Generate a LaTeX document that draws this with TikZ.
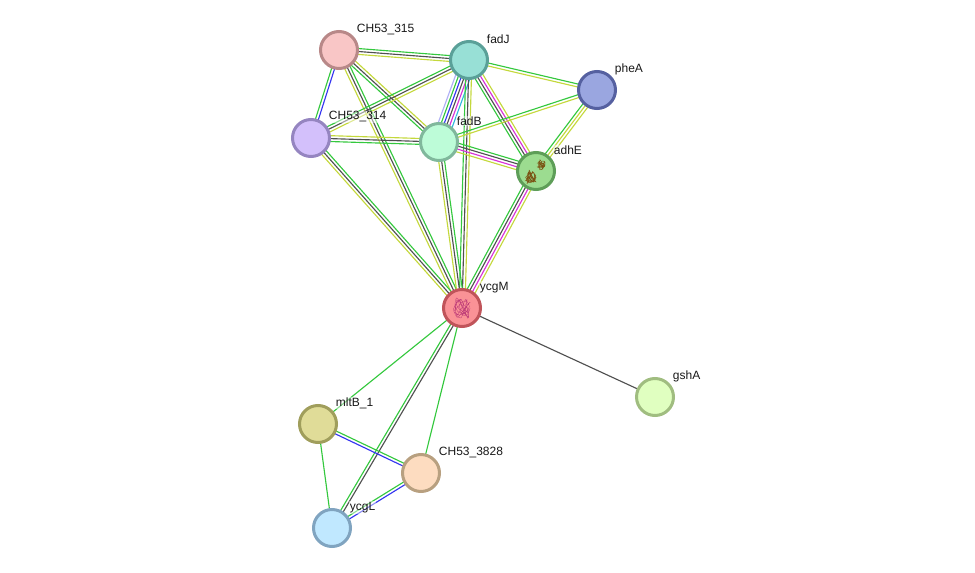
\documentclass[tikz,border=0pt]{standalone}
\usepackage{fontspec}
\setmainfont{Liberation Sans}
\usetikzlibrary{calc}
\pgfdeclarelayer{edges}
\pgfsetlayers{edges,main}
\definecolor{lgreen}{HTML}{34C83E}
\definecolor{ldark}{HTML}{505050}
\definecolor{lyellow}{HTML}{C4D83C}
\definecolor{lmagenta}{HTML}{D830D8}
\definecolor{lblue}{HTML}{3434F0}
\definecolor{lviolet}{HTML}{AFAFF5}
\definecolor{lcyan}{HTML}{2FB8DC}
\tikzset{
  protein/.style={circle,draw,line width=2.25pt,minimum size=27.75pt,inner sep=0pt,outer sep=0pt},
  tag/.style={anchor=west,font=\fontsize{9}{10}\selectfont,text=black!90,inner sep=0.5pt,fill=white,fill opacity=0.45,text opacity=1},
  strand/.style={line width=0.85pt},
  fold/.style={line width=0.22pt,line join=round}
}
% Parallel strands between two proteins: offset in pt / colour
\newcommand{\bundle}[3]{%
  \begin{pgfonlayer}{edges}
    \foreach \off/\col in {#3} {
      \draw[strand,color=\col] ($(#1)!1.22*\off pt!90:(#2)$) -- ($(#2)!1.22*\off pt!-90:(#1)$);
    }
  \end{pgfonlayer}}
\begin{document}
\begin{tikzpicture}[x=0.75pt,y=-0.75pt]
\useasboundingbox (0,0) rectangle (975,573);

\node[protein,fill={rgb,255:red,249;green,198;blue,198},draw={rgb,255:red,184;green,136;blue,136}] (n315) at (339,50) {};
\node[protein,fill={rgb,255:red,152;green,224;blue,214},draw={rgb,255:red,90;green,160;blue,152}] (fadJ) at (469,60) {};
\node[protein,fill={rgb,255:red,154;green,166;blue,224},draw={rgb,255:red,85;green,96;blue,160}] (pheA) at (597,90) {};
\node[protein,fill={rgb,255:red,211;green,192;blue,251},draw={rgb,255:red,149;green,133;blue,192}] (n314) at (311,138) {};
\node[protein,fill={rgb,255:red,189;green,252;blue,216},draw={rgb,255:red,128;green,184;blue,156}] (fadB) at (439,142) {};
\node[protein,fill={rgb,255:red,156;green,220;blue,144},draw={rgb,255:red,94;green,158;blue,88}] (adhE) at (536,171) {};
\node[protein,fill={rgb,255:red,250;green,146;blue,150},draw={rgb,255:red,192;green,84;blue,90}] (ycgM) at (462,308) {};
\node[protein,fill={rgb,255:red,224;green,255;blue,192},draw={rgb,255:red,160;green,189;blue,128}] (gshA) at (655,397) {};
\node[protein,fill={rgb,255:red,224;green,220;blue,152},draw={rgb,255:red,160;green,158;blue,92}] (mltB) at (318,424) {};
\node[protein,fill={rgb,255:red,253;green,220;blue,192},draw={rgb,255:red,184;green,160;blue,128}] (n3828) at (421,473) {};
\node[protein,fill={rgb,255:red,192;green,232;blue,255},draw={rgb,255:red,128;green,164;blue,192}] (ycgL) at (332,528) {};

\bundle{n315}{fadJ}{1.8/lgreen,0/ldark,-1.8/lyellow}
\bundle{n315}{n314}{-0.9/lgreen,0.9/lblue}
\bundle{n315}{fadB}{1.8/lyellow,0/ldark,-1.8/lgreen}
\bundle{n315}{ycgM}{-1.8/lyellow,0/ldark,1.8/lgreen}
\bundle{n314}{fadJ}{1.8/lgreen,0/ldark,-1.8/lyellow}
\bundle{n314}{fadB}{1.8/lyellow,0/ldark,-1.8/lgreen}
\bundle{n314}{ycgM}{1.8/lgreen,0/ldark,-1.8/lyellow}
\bundle{fadJ}{fadB}{-4.5/lviolet,-2.7/lgreen,-0.9/lblue,0.9/ldark,2.7/lmagenta,4.5/lcyan}
\bundle{fadJ}{ycgM}{-1.8/lgreen,0/ldark,1.8/lyellow}
\bundle{fadJ}{adhE}{2.7/lyellow,0.9/lmagenta,-0.9/ldark,-2.7/lgreen}
\bundle{fadJ}{pheA}{0.9/lgreen,-0.9/lyellow}
\bundle{fadB}{pheA}{0.9/lgreen,-0.9/lyellow}
\bundle{fadB}{adhE}{2.7/lgreen,0.9/ldark,-0.9/lmagenta,-2.7/lyellow}
\bundle{fadB}{ycgM}{-1.8/lyellow,0/ldark,1.8/lgreen}
\bundle{adhE}{pheA}{1.8/lgreen,0/lyellow,-1.8/lyellow}
\bundle{adhE}{ycgM}{-2.7/lgreen,-0.9/ldark,0.9/lmagenta,2.7/lyellow}
\bundle{ycgM}{gshA}{0/ldark}
\bundle{ycgM}{mltB}{0/lgreen}
\bundle{ycgM}{n3828}{0/lgreen}
\bundle{ycgM}{ycgL}{-0.9/lgreen,0.9/ldark}
\bundle{mltB}{n3828}{0.9/lgreen,-0.9/lblue}
\bundle{mltB}{ycgL}{0/lgreen}
\bundle{n3828}{ycgL}{-0.9/lgreen,0.9/lblue}

% Ribbon sketches of the known structures
\pgfmathsetseed{41}
\draw[fold,color={rgb,255:red,190;green,60;blue,120}]
  plot[smooth,samples=60,domain=0:59,variable=\t]
  ({462+9*cos(\t*37)*(0.4+0.6*rnd)},{308+11*sin(\t*53)*(0.4+0.6*rnd)});
\draw[fold,color={rgb,255:red,122;green,84;blue,20},line width=0.35pt]
  plot[smooth,samples=45,domain=0:44,variable=\t]
  ({531+6*cos(\t*47)*(0.3+0.7*rnd)},{177+7*sin(\t*61)*(0.3+0.7*rnd)});
\draw[fold,color={rgb,255:red,122;green,84;blue,20},line width=0.35pt]
  plot[smooth,samples=35,domain=0:34,variable=\t]
  ({541+4.5*cos(\t*47)*(0.3+0.7*rnd)},{165+5.5*sin(\t*61)*(0.3+0.7*rnd)});

\node[tag] (t315) at (356,29.5) {CH53\_315};
\node[tag] (tfadJ) at (486,39) {fadJ};
\node[tag] (tpheA) at (614,69.5) {pheA};
\node[tag] (t314) at (328,117) {CH53\_314};
\node[tag] (tfadB) at (456,121) {fadB};
\node[tag] (tadhE) at (553,150) {adhE};
\node[tag] (tycgM) at (479,287.5) {ycgM};
\node[tag] (tgshA) at (672,376.5) {gshA};
\node[tag] (tmltB) at (335,403) {mltB\_1};
\node[tag] (t3828) at (438,452.5) {CH53\_3828};
\node[tag] (tycgL) at (349,507.5) {ycgL};
\end{tikzpicture}
\end{document}
